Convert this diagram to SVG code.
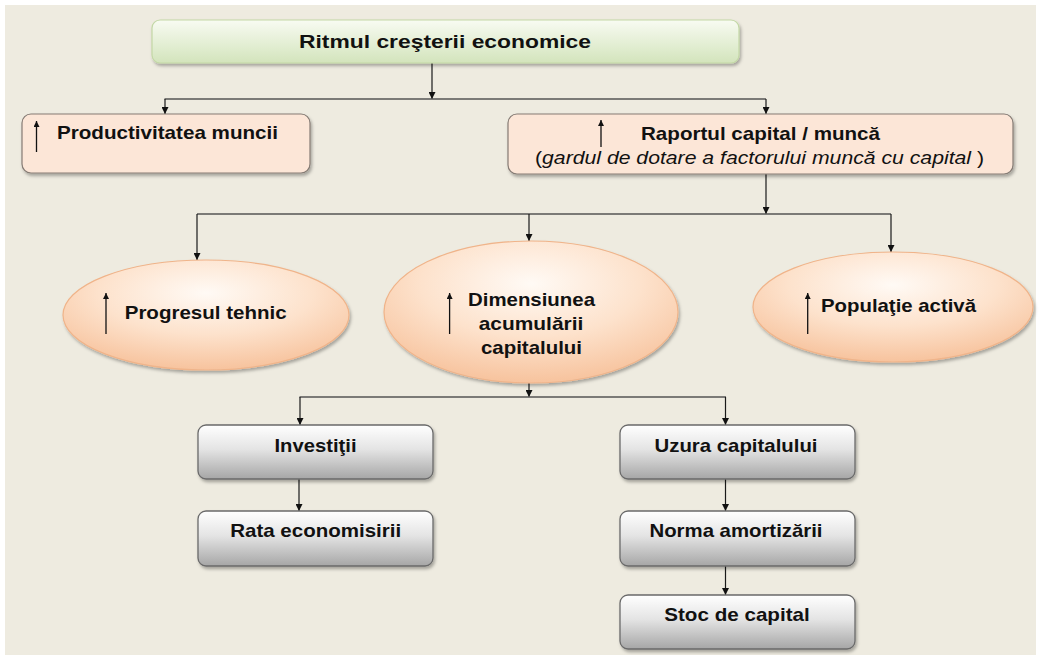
<svg xmlns="http://www.w3.org/2000/svg" width="1040" height="655" viewBox="0 0 1040 655">
<defs>
<linearGradient id="gGreen" x1="0" y1="0" x2="0" y2="1"><stop offset="0" stop-color="#F8FBF2"/><stop offset="1" stop-color="#D3E4BC"/></linearGradient>
<radialGradient id="gOval" cx="0.5" cy="0.3" r="0.75"><stop offset="0" stop-color="#FFFAF5"/><stop offset="0.5" stop-color="#FDE2CC"/><stop offset="1" stop-color="#F6BE96"/></radialGradient>
<linearGradient id="gGray" x1="0" y1="0" x2="0" y2="1"><stop offset="0" stop-color="#FFFFFF"/><stop offset="0.45" stop-color="#E4E4E4"/><stop offset="1" stop-color="#A6A6A6"/></linearGradient>
<filter id="sh" x="-10%" y="-20%" width="130%" height="150%"><feDropShadow dx="1.5" dy="2.5" stdDeviation="1.8" flood-color="#000" flood-opacity="0.3"/></filter>
<marker id="ah" viewBox="0 0 10 10" refX="10" refY="5" markerWidth="9" markerHeight="7" markerUnits="userSpaceOnUse" orient="auto"><path d="M0,0 L10,5 L0,10 z" fill="#111"/></marker>
<marker id="ahs" viewBox="0 0 10 10" refX="10" refY="5" markerWidth="7" markerHeight="6" markerUnits="userSpaceOnUse" orient="auto"><path d="M0,0 L10,5 L0,10 z" fill="#111"/></marker>
<style>
.t{font-family:"Liberation Sans",Arial,sans-serif;font-weight:bold;font-size:19px;fill:#111}
.m{text-anchor:middle}
.it{font-family:"Liberation Sans",Arial,sans-serif;font-size:18px;fill:#111}
.c{fill:none;stroke:#1a1a1a;stroke-width:1.2}
.h{fill:none;stroke:#555;stroke-width:1.6}
.ic{stroke:#111;stroke-width:1.3;marker-end:url(#ahs)}
.peach{fill:#FCE6D7;stroke:#857B74;stroke-width:1.2}
.oval{fill:url(#gOval);stroke:#F0B48A;stroke-width:1.2}
.gray{fill:url(#gGray);stroke:#6A6A6A;stroke-width:1.3}
</style>
</defs>
<rect x="0" y="0" width="1040" height="655" fill="#FFFFFF"/>
<rect x="5" y="5" width="1031" height="650" fill="#EEEBE0"/>

<g id="connectors">
<path class="c" d="M432,63 V99" marker-end="url(#ah)"/>
<path class="h" d="M164.5,99 H766"/>
<path class="c" d="M165,99 V114" marker-end="url(#ah)"/>
<path class="c" d="M766,99 V114" marker-end="url(#ah)"/>
<path class="c" d="M766,174 V214" marker-end="url(#ah)"/>
<path class="h" d="M197,214 H891"/>
<path class="c" d="M197,214 V260" marker-end="url(#ah)"/>
<path class="c" d="M529,214 V241" marker-end="url(#ah)"/>
<path class="c" d="M891,214 V252" marker-end="url(#ah)"/>
<path class="c" d="M529,383 V397" marker-end="url(#ah)"/>
<path class="h" d="M299.5,397 H726"/>
<path class="c" d="M300,397 V425" marker-end="url(#ah)"/>
<path class="c" d="M725.5,397 V425" marker-end="url(#ah)"/>
<path class="c" d="M299,479 V511" marker-end="url(#ah)"/>
<path class="c" d="M725.5,479 V511" marker-end="url(#ah)"/>
<path class="c" d="M725.5,566 V595" marker-end="url(#ah)"/>
</g>

<g id="ritmul">
<rect x="152" y="20" width="587" height="43" rx="8" fill="url(#gGreen)" stroke="#C3D8A6" stroke-width="1.2" filter="url(#sh)"/>
<text class="t m" x="445" y="48" textLength="292" lengthAdjust="spacingAndGlyphs">Ritmul creşterii economice</text>
</g>

<g id="productivitatea">
<rect class="peach" x="22" y="114" width="288" height="59" rx="9" filter="url(#sh)"/>
<line class="ic" x1="36.5" y1="152" x2="36.5" y2="121"/>
<text class="t" x="57" y="139.3" textLength="221" lengthAdjust="spacingAndGlyphs">Productivitatea muncii</text>
</g>

<g id="raportul">
<rect class="peach" x="508" y="114" width="505" height="60" rx="9" filter="url(#sh)"/>
<line class="ic" x1="601" y1="147" x2="601" y2="120"/>
<text class="t m" x="760.5" y="139.5" textLength="239" lengthAdjust="spacingAndGlyphs">Raportul capital / muncă</text>
<text class="it m" x="759.5" y="163.5" textLength="449" lengthAdjust="spacingAndGlyphs">(<tspan font-style="italic">gardul de dotare a factorului muncă cu capital</tspan> )</text>
</g>

<g id="progresul">
<ellipse class="oval" cx="206" cy="315" rx="143" ry="55" filter="url(#sh)"/>
<line class="ic" x1="106" y1="334" x2="106" y2="293"/>
<text class="t" x="124.7" y="319.3" textLength="162" lengthAdjust="spacingAndGlyphs">Progresul tehnic</text>
</g>

<g id="dimensiunea">
<ellipse class="oval" cx="531" cy="312" rx="147" ry="71" filter="url(#sh)"/>
<line class="ic" x1="449.6" y1="334" x2="449.6" y2="293"/>
<text class="t m" x="531.5" y="306" textLength="127" lengthAdjust="spacingAndGlyphs">Dimensiunea</text>
<text class="t m" x="531" y="330" textLength="104.5" lengthAdjust="spacingAndGlyphs">acumulării</text>
<text class="t m" x="531.5" y="354" textLength="101" lengthAdjust="spacingAndGlyphs">capitalului</text>
</g>

<g id="populatie">
<ellipse class="oval" cx="893" cy="307" rx="140" ry="55" filter="url(#sh)"/>
<line class="ic" x1="807.7" y1="334" x2="807.7" y2="293"/>
<text class="t" x="821" y="311.7" textLength="155" lengthAdjust="spacingAndGlyphs">Populaţie activă</text>
</g>

<g id="investitii">
<rect class="gray" x="198" y="425" width="235" height="54" rx="8" filter="url(#sh)"/>
<text class="t m" x="315.5" y="452" textLength="82" lengthAdjust="spacingAndGlyphs">Investiţii</text>
</g>

<g id="rata">
<rect class="gray" x="198" y="511" width="235" height="55" rx="8" filter="url(#sh)"/>
<text class="t m" x="315.7" y="537" textLength="171" lengthAdjust="spacingAndGlyphs">Rata economisirii</text>
</g>

<g id="uzura">
<rect class="gray" x="620" y="425" width="235" height="54" rx="8" filter="url(#sh)"/>
<text class="t m" x="736" y="452" textLength="163" lengthAdjust="spacingAndGlyphs">Uzura capitalului</text>
</g>

<g id="norma">
<rect class="gray" x="620" y="511" width="235" height="55" rx="8" filter="url(#sh)"/>
<text class="t m" x="736" y="537" textLength="173" lengthAdjust="spacingAndGlyphs">Norma amortizării</text>
</g>

<g id="stoc">
<rect class="gray" x="620" y="595" width="235" height="54" rx="8" filter="url(#sh)"/>
<text class="t m" x="737" y="621" textLength="145.5" lengthAdjust="spacingAndGlyphs">Stoc de capital</text>
</g>
</svg>
